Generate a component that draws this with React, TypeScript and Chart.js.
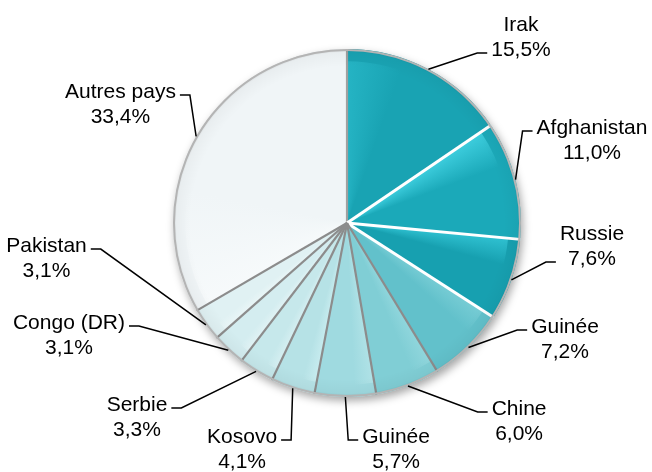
import React, { useEffect, useRef } from 'react';
import { Chart, ArcElement, PieController } from 'chart.js';

Chart.register(ArcElement, PieController);

// ---- data ----
const categories = ['Irak', 'Afghanistan', 'Russie', 'Guinée', 'Chine', 'Guinée', 'Kosovo', 'Serbie', 'Congo (DR)', 'Pakistan', 'Autres pays'];
const shares = [15.5, 11.0, 7.6, 7.2, 6.0, 5.7, 4.1, 3.3, 3.1, 3.1, 33.4];

// ---- styles ----
const sliceColors = ['#19a3b3', '#1ba9b9', '#17a0b0', '#62c1cb', '#80ced5', '#9fdae0', '#b6e2e6', '#c6e8eb', '#d4edf0', '#e0f1f3', '#f0f5f7'];
const sliceHighlights = ['#28b8c8', '#45d6e6', '#35c9d9', '#7ccfd7', '#94d8de', '#b4e4e8', '#cbeef1', '#d9f1f3', '#e4f4f6', '#ecf7f8', '#f8fbfc'];
const startEdgeColors = ['#a0a0a0', '#ffffff', '#ffffff', '#ffffff', '#8c8c8c', '#8c8c8c', '#8c8c8c', '#8c8c8c', '#8c8c8c', '#8c8c8c', '#8c8c8c'];

// ---- label layout (offsets from the pie centre, in radius units; y is first-line baseline) ----
const labelDx = [1.0, 1.408, 1.408, 1.253, 0.989, 0.282, -0.603, -1.207, -1.598, -1.727, -1.302];
const labelDy = [-1.103, -0.511, 0.098, 0.632, 1.103, 1.264, 1.264, 1.08, 0.609, 0.167, -0.718];
const leaderOnLine = [1, 0, 1, 0, 0, 0, 0, 0, 0, 0, 0];

const FONT = '21px "Liberation Sans", Arial, sans-serif';
const LINE = 25;

const fmt = (v: number) => v.toFixed(1).replace('.', ',') + '%';

const piePlugin = {
  id: 'pieDecor',
  beforeDatasetsDraw(chart: any) {
    const meta = chart.getDatasetMeta(0);
    const a = meta.data[0];
    if (!a) return;
    const { x, y, outerRadius } = a.getProps(['x', 'y', 'outerRadius'], true);
    const ctx = chart.ctx;
    ctx.save();
    ctx.shadowColor = 'rgba(0,0,0,0.35)';
    ctx.shadowBlur = 9;
    ctx.shadowOffsetX = 2;
    ctx.shadowOffsetY = 4;
    ctx.beginPath();
    ctx.arc(x, y, outerRadius, 0, Math.PI * 2);
    ctx.fillStyle = '#ffffff';
    ctx.fill();
    ctx.restore();
  },
  afterDatasetsDraw(chart: any) {
    const meta = chart.getDatasetMeta(0);
    const arcs = meta.data;
    if (!arcs.length) return;
    const { x, y, outerRadius: R } = arcs[0].getProps(['x', 'y', 'outerRadius'], true);
    const ctx = chart.ctx;
    ctx.save();
    // bevel-like highlight near the start edge of each slice
    arcs.forEach((arc: any, i: number) => {
      const { startAngle, endAngle } = arc.getProps(['startAngle', 'endAngle'], true);
      const span = endAngle - startAngle;
      const g = ctx.createConicGradient(startAngle, x, y);
      const f = span / (Math.PI * 2);
      g.addColorStop(0, sliceHighlights[i]);
      g.addColorStop(Math.min(f * 0.35, 0.99), sliceColors[i]);
      g.addColorStop(Math.min(f * 0.85, 0.99), sliceColors[i]);
      g.addColorStop(Math.min(f, 1), sliceColors[i]);
      ctx.beginPath();
      ctx.moveTo(x, y);
      ctx.arc(x, y, R * 0.93, startAngle, endAngle);
      ctx.closePath();
      ctx.globalAlpha = 0.8;
      ctx.fillStyle = g;
      ctx.fill();
      ctx.globalAlpha = 1;
    });
    // radial separators
    arcs.forEach((arc: any, i: number) => {
      const { startAngle } = arc.getProps(['startAngle'], true);
      ctx.beginPath();
      ctx.moveTo(x, y);
      ctx.lineTo(x + Math.cos(startAngle) * R, y + Math.sin(startAngle) * R);
      ctx.strokeStyle = startEdgeColors[i];
      ctx.lineWidth = startEdgeColors[i] === '#ffffff' ? 3 : 2.2;
      ctx.stroke();
    });
    // rim
    const rg = ctx.createRadialGradient(x, y, R * 0.9, x, y, R);
    rg.addColorStop(0, 'rgba(0,0,0,0)');
    rg.addColorStop(0.8, 'rgba(0,0,0,0.03)');
    rg.addColorStop(1, 'rgba(0,0,0,0.12)');
    ctx.beginPath();
    ctx.arc(x, y, R, 0, Math.PI * 2);
    ctx.fillStyle = rg;
    ctx.fill();
    ctx.beginPath();
    ctx.arc(x, y, R - 1, 0, Math.PI * 2);
    ctx.strokeStyle = '#b4b4b4';
    ctx.lineWidth = 2;
    ctx.stroke();

    // labels and leader lines
    ctx.font = FONT;
    ctx.textAlign = 'center';
    ctx.textBaseline = 'alphabetic';
    ctx.fillStyle = '#000000';
    arcs.forEach((arc: any, i: number) => {
      const { startAngle, endAngle } = arc.getProps(['startAngle', 'endAngle'], true);
      const mid = (startAngle + endAngle) / 2;
      const ex = x + Math.cos(mid) * R;
      const ey = y + Math.sin(mid) * R;
      const cx = x + labelDx[i] * R;
      const by = y + labelDy[i] * R;
      const name = categories[i];
      const pct = fmt(shares[i]);
      ctx.fillText(name, cx, by);
      ctx.fillText(pct, cx, by + LINE);
      const w = Math.max(ctx.measureText(name).width, ctx.measureText(pct).width);
      const side = cx > ex ? -1 : 1;
      const ay = by + leaderOnLine[i] * LINE - 3;
      const ax = cx + side * (w / 2 + 4);
      const bx = ax + side * 10;
      ctx.beginPath();
      ctx.moveTo(ax, ay);
      ctx.lineTo(bx, ay);
      ctx.lineTo(ex, ey);
      ctx.strokeStyle = '#000000';
      ctx.lineWidth = 1.5;
      ctx.stroke();
    });
    ctx.restore();
  },
};

export default function App() {
  const ref = useRef<HTMLCanvasElement | null>(null);
  useEffect(() => {
    if (!ref.current) return;
    const chart = new Chart(ref.current, {
      type: 'pie',
      data: {
        labels: categories,
        datasets: [
          {
            data: shares,
            backgroundColor: sliceColors,
            borderWidth: 0,
          },
        ],
      },
      options: {
        responsive: false,
        animation: false,
        layout: { padding: { left: 173, right: 131, top: 49, bottom: 75 } },
        plugins: { legend: { display: false }, tooltip: { enabled: false } },
        events: [],
      },
      plugins: [piePlugin],
    });
    return () => chart.destroy();
  }, []);
  return (
    <div style={{ position: 'absolute', left: 0, top: 0, width: 652, height: 472, background: '#ffffff' }}>
      <canvas ref={ref} width={652} height={472} />
    </div>
  );
}
